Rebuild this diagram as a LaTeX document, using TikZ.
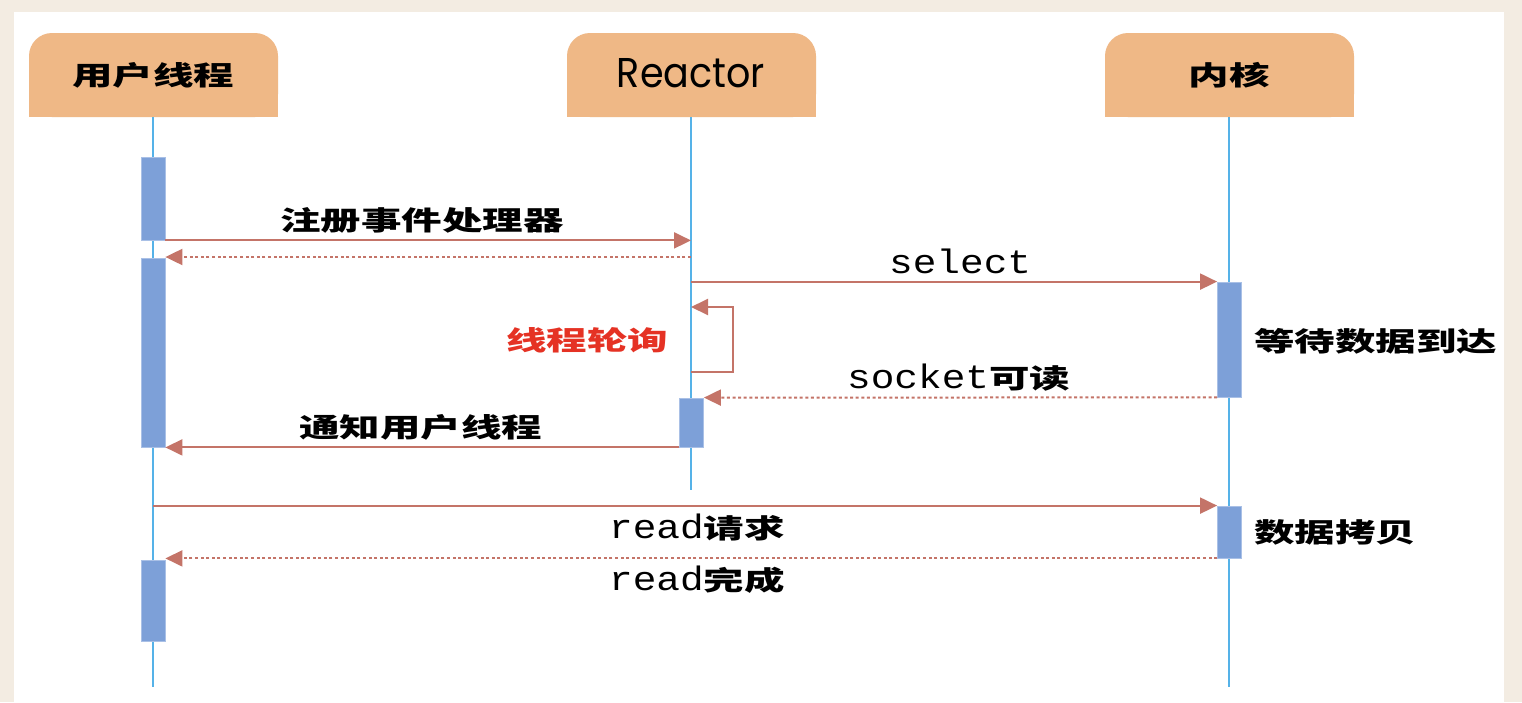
\documentclass[tikz,border=0pt]{standalone}
\usepackage{fontspec}
\usepackage{graphicx}
\usetikzlibrary{arrows.meta,calc}
\newfontfamily\cjkf{Noto Sans CJK SC}
\newfontfamily\monof{Liberation Mono}
\newfontfamily\reactf{Poppins}
\definecolor{bgbeige}{HTML}{F3ECE2}
\definecolor{hdrfill}{HTML}{EFB886}
\definecolor{actfill}{HTML}{7DA0D8}
\definecolor{actdraw}{HTML}{A9C0E6}
\definecolor{lifec}{HTML}{55B2E8}
\definecolor{msgc}{HTML}{C47468}
\definecolor{redc}{HTML}{E53224}
\newcommand\cn[1]{\scalebox{1}[0.66]{\fontsize{40.5}{44}\selectfont\cjkf\bfseries #1}}
\newcommand\mono[1]{\scalebox{1}[0.86]{\fontsize{39.4}{44}\selectfont\monof #1}}
\tikzset{
  hdrbox/.style={fill=hdrfill, rounded corners=23pt, minimum width=249pt, minimum height=84pt, inner sep=0pt},
  act/.style={fill=actfill, draw=actdraw, line width=0.8pt, minimum width=24pt, inner sep=0pt},
  life/.style={draw=lifec, line width=2pt},
  msg/.style={draw=msgc, line width=2pt, -{Triangle[length=17pt,width=16pt]}, color=msgc},
  ret/.style={draw=msgc, line width=2pt, dash pattern=on 3pt off 2.6pt, -{Triangle[length=17pt,width=16pt]}, color=msgc},
  lbl/.style={inner sep=0pt, anchor=west},
}
\begin{document}
\begin{tikzpicture}[x=1pt, y=-1pt]
\useasboundingbox (0,0) rectangle (1522,702);
\fill[bgbeige] (0,0) rectangle (1522,702);
\fill[white] (14,12) rectangle (1504,702);

% headers
\node[hdrbox] (u) at (153.5,75) {};
\fill[hdrfill] (u.west) rectangle (u.south east);
\node[inner sep=0pt] (ut) at (153,75) {\cn{用户线程}};
\node[hdrbox] (r) at (691.5,75) {};
\fill[hdrfill] (r.west) rectangle (r.south east);
\node[inner sep=0pt] (rt) at (691,73) {\resizebox{148pt}{29pt}{\reactf Reactor}};
\node[hdrbox] (k) at (1229.5,75) {};
\fill[hdrfill] (k.west) rectangle (k.south east);
\node[inner sep=0pt] (kt) at (1229,75) {\cn{内核}};

% lifelines
\coordinate (ue) at (153,687);
\coordinate (re) at (691,490);
\coordinate (ke) at (1229,687);
\draw[life] (u.south -| 153,0) -- (ue);
\draw[life] (r.south -| 691,0) -- (re);
\draw[life] (k.south -| 1229,0) -- (ke);

% activations
\node[act, minimum height=83pt] (a1) at (153,198.5) {};
\node[act, minimum height=189pt] (a2) at (153,352.5) {};
\node[act, minimum height=81pt] (a3) at (153,600.5) {};
\node[act, minimum height=49pt] (a4) at (691.5,422.5) {};
\node[act, minimum height=115pt] (a5) at (1229.5,339.5) {};
\node[act, minimum height=52pt] (a6) at (1229.5,532) {};

% messages
\draw[msg] (a1.south east) -- (a1.south east -| re);
\draw[ret] (691,257) coordinate (rr) -- (a2.north east |- rr);
\draw[msg] (a5.north west -| re) -- (a5.north west);
\coordinate (lp1) at (691,372);
\coordinate (lp2) at (733,372);
\coordinate (lp3) at (733,307);
\coordinate (lp4) at (691,307);
\draw[msg] (lp1) -- (lp2) -- (lp3) -- (lp4);
\draw[ret] (a5.south west) -- (a4.north east);
\draw[msg] (a4.south west) -- (a2.south east);
\draw[msg] (a6.north west -| ue) -- (a6.north west);
\draw[ret] (a6.south west) -- (a6.south west -| a3.east);

% labels
\node[lbl] (l1) at (280,220) {\cn{注册事件处理器}};
\node[lbl, anchor=base west] (l2) at (889,273) {\mono{select}};
\node[lbl, text=redc] (l3) at (506,340) {\cn{线程轮询}};
\node[lbl, anchor=base west] (l4) at (847,388) {\mono{socket}\cn{可读}};
\node[lbl] (l5) at (299,427) {\cn{通知用户线程}};
\node[lbl, anchor=base west] (l6) at (609,538) {\mono{read}\cn{请求}};
\node[lbl, anchor=base west] (l7) at (609,590) {\mono{read}\cn{完成}};
\node[lbl] (l8) at (1254,341) {\cn{等待数据到达}};
\node[lbl] (l9) at (1254,532) {\cn{数据拷贝}};
\end{tikzpicture}
\end{document}
